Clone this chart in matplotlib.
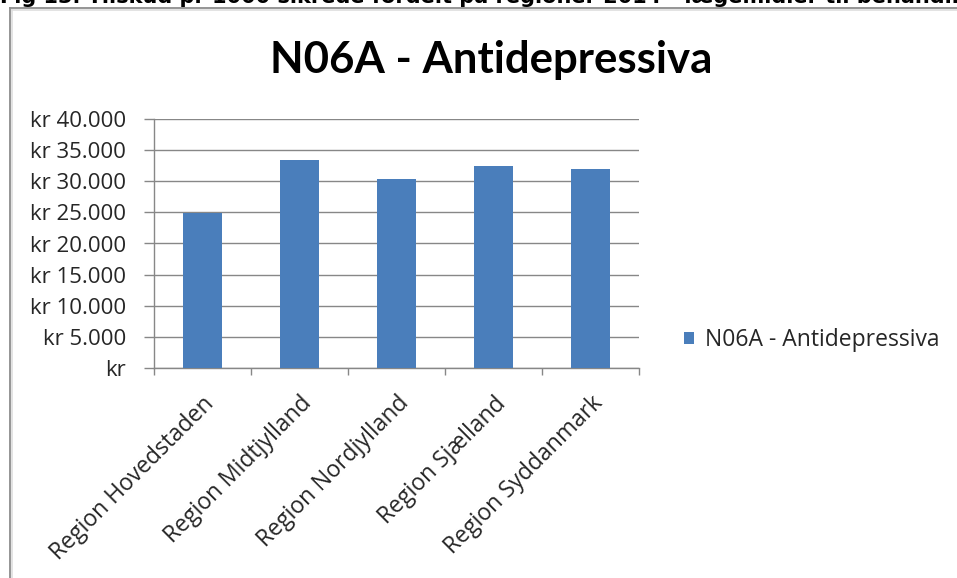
import matplotlib.pyplot as plt
from matplotlib.lines import Line2D
from matplotlib.ticker import FixedLocator

regions = ["Region Hovedstaden", "Region Midtjylland", "Region Nordjylland",
           "Region Sjælland", "Region Syddanmark"]
values = [24900, 33400, 30400, 32400, 32000]
y_ticks = [0, 5000, 10000, 15000, 20000, 25000, 30000, 35000, 40000]
series_name = "N06A - Antidepressiva"
header = "Fig 13. Tilskud pr 1000 sikrede fordelt på regioner 2014 - lægemidler til behandling"


def kr_label(v):
    if v == 0:
        return "kr"
    return "kr " + f"{v:,}".replace(",", ".")


W, H = 957, 578
fig = plt.figure(figsize=(W / 100, H / 100), dpi=100)
fig.patch.set_facecolor("white")

font = "Open Sans"
text_col = "#262626"
grid_col = "#878787"

# caption above the chart frame, partly outside the page
fig.text(0.0, 1 - 3 / H, header, family="DejaVu Sans", weight="bold",
         fontsize=15, va="baseline", ha="left", color="black")

# chart frame (left and top edges, with a faint shadow)
frame = dict(transform=fig.transFigure)
fig.add_artist(Line2D([10 / W, 10 / W], [0, 1 - 8 / H], color="#8c8c8c", lw=1.3, **frame))
fig.add_artist(Line2D([10 / W, 1], [1 - 8 / H, 1 - 8 / H], color="#8c8c8c", lw=1.3, **frame))
fig.add_artist(Line2D([12 / W, 12 / W], [0, 1 - 10 / H], color="#dedede", lw=1.2, **frame))
fig.add_artist(Line2D([12 / W, 1], [1 - 10 / H, 1 - 10 / H], color="#dedede", lw=1.2, **frame))

ax = fig.add_axes([154 / W, 1 - 368 / H, 485 / W, 249 / H])
x = range(len(regions))
bars = ax.bar(x, values, width=0.4, color="#4a7ebb", label=series_name, zorder=3)

ax.set_xlim(-0.5, len(regions) - 0.5)
ax.set_ylim(0, 40000)
ax.set_yticks(y_ticks)
ax.set_yticklabels([kr_label(v) for v in y_ticks], family=font, fontsize=16,
                   color=text_col)
ax.yaxis.grid(True, color=grid_col, lw=1, zorder=0)
ax.tick_params(axis="y", length=7, width=1, color=grid_col, pad=13)

ax.set_xticks(list(x))
ax.set_xticklabels(regions, rotation=45, ha="right", va="top",
                   rotation_mode="anchor", family=font, fontsize=16.5, color=text_col)
ax.tick_params(axis="x", which="major", length=0, pad=17)
ax.xaxis.set_minor_locator(FixedLocator([i - 0.5 for i in range(len(regions) + 1)]))
ax.tick_params(axis="x", which="minor", length=5, width=1, color=grid_col)

for side in ["top", "right"]:
    ax.spines[side].set_visible(False)
for side in ["left", "bottom"]:
    ax.spines[side].set_color(grid_col)
    ax.spines[side].set_linewidth(1)

fig.text(491 / W, 1 - 73.5 / H, series_name, family="Lato", weight="bold",
         fontsize=31.5, ha="center", va="baseline", color="black")

fig.legend(handles=[bars], labels=[series_name], loc="center left",
           bbox_to_anchor=(684 / W, 1 - 340 / H), frameon=False,
           borderpad=0, borderaxespad=0,
           prop={"family": font, "size": 16.5}, handlelength=0.45, handleheight=0.45,
           handletextpad=0.45, labelcolor=text_col)

fig.savefig("out.png", dpi=100)
